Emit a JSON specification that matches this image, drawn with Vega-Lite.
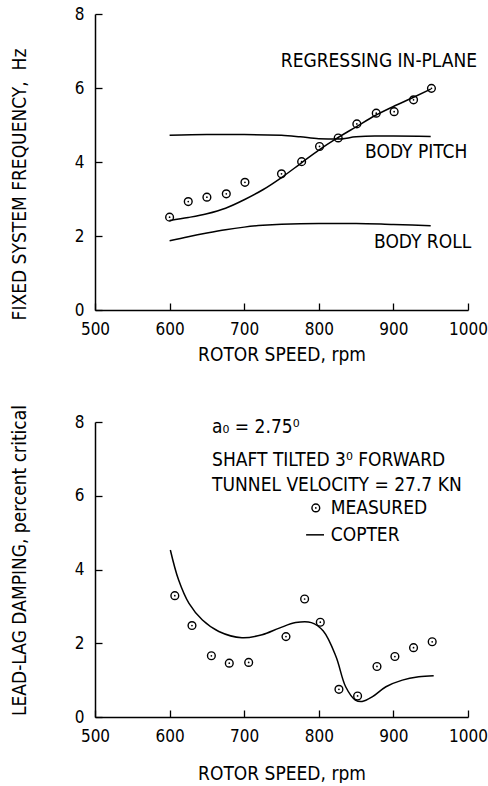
{
  "$schema": "https://vega.github.io/schema/vega-lite/v6.json",
  "padding": {"left": 10, "top": 5, "right": 5, "bottom": 0},
  "background": "white",
  "spacing": 40,
  "config": {
    "view": {"stroke": null},
    "font": "Liberation Sans Narrow, DejaVu Sans Condensed, DejaVu Sans",
    "axis": {
      "grid": false,
      "domainColor": "black",
      "domainWidth": 1.5,
      "tickColor": "black",
      "tickWidth": 1.3,
      "tickSize": -7,
      "format": "d",
      "labelFont": "Liberation Sans Narrow, DejaVu Sans Condensed, DejaVu Sans",
      "labelFontSize": 17,
      "labelColor": "black",
      "titleFont": "Liberation Sans Narrow, DejaVu Sans Condensed, DejaVu Sans",
      "titleFontSize": 19,
      "titleFontWeight": "normal",
      "titleColor": "black"
    },
    "axisX": {"labelPadding": 18, "titlePadding": 8, "labelFlush": false},
    "axisY": {"labelPadding": 18, "titlePadding": 45}
  },
  "datasets": {
    "topPoints": [
      {"rpm": 600, "freq": 2.51}, {"rpm": 625, "freq": 2.93}, {"rpm": 650, "freq": 3.05},
      {"rpm": 676, "freq": 3.14}, {"rpm": 701, "freq": 3.45}, {"rpm": 750, "freq": 3.68},
      {"rpm": 777, "freq": 4.01}, {"rpm": 801, "freq": 4.42}, {"rpm": 826, "freq": 4.65},
      {"rpm": 851, "freq": 5.03}, {"rpm": 877, "freq": 5.32}, {"rpm": 901, "freq": 5.36},
      {"rpm": 927, "freq": 5.68}, {"rpm": 951, "freq": 5.99}
    ],
    "topCurves": [
      {"mode": "regressing", "rpm": 600, "freq": 2.42}, {"mode": "regressing", "rpm": 625, "freq": 2.5},
      {"mode": "regressing", "rpm": 650, "freq": 2.6}, {"mode": "regressing", "rpm": 675, "freq": 2.75},
      {"mode": "regressing", "rpm": 700, "freq": 2.98}, {"mode": "regressing", "rpm": 725, "freq": 3.25},
      {"mode": "regressing", "rpm": 750, "freq": 3.58}, {"mode": "regressing", "rpm": 775, "freq": 3.95},
      {"mode": "regressing", "rpm": 800, "freq": 4.32}, {"mode": "regressing", "rpm": 825, "freq": 4.65},
      {"mode": "regressing", "rpm": 850, "freq": 4.95}, {"mode": "regressing", "rpm": 875, "freq": 5.25},
      {"mode": "regressing", "rpm": 900, "freq": 5.5}, {"mode": "regressing", "rpm": 925, "freq": 5.73},
      {"mode": "regressing", "rpm": 950, "freq": 5.97},
      {"mode": "pitch", "rpm": 600, "freq": 4.72}, {"mode": "pitch", "rpm": 650, "freq": 4.74},
      {"mode": "pitch", "rpm": 700, "freq": 4.74}, {"mode": "pitch", "rpm": 750, "freq": 4.72},
      {"mode": "pitch", "rpm": 775, "freq": 4.68}, {"mode": "pitch", "rpm": 800, "freq": 4.63},
      {"mode": "pitch", "rpm": 825, "freq": 4.62}, {"mode": "pitch", "rpm": 850, "freq": 4.68},
      {"mode": "pitch", "rpm": 875, "freq": 4.7}, {"mode": "pitch", "rpm": 900, "freq": 4.7},
      {"mode": "pitch", "rpm": 950, "freq": 4.69},
      {"mode": "roll", "rpm": 600, "freq": 1.87}, {"mode": "roll", "rpm": 625, "freq": 1.98},
      {"mode": "roll", "rpm": 650, "freq": 2.08}, {"mode": "roll", "rpm": 675, "freq": 2.17},
      {"mode": "roll", "rpm": 700, "freq": 2.24}, {"mode": "roll", "rpm": 725, "freq": 2.29},
      {"mode": "roll", "rpm": 750, "freq": 2.32}, {"mode": "roll", "rpm": 800, "freq": 2.34},
      {"mode": "roll", "rpm": 850, "freq": 2.34}, {"mode": "roll", "rpm": 900, "freq": 2.31},
      {"mode": "roll", "rpm": 950, "freq": 2.28}
    ],
    "bottomPoints": [
      {"rpm": 607, "damping": 3.29}, {"rpm": 630, "damping": 2.48}, {"rpm": 656, "damping": 1.66},
      {"rpm": 680, "damping": 1.46}, {"rpm": 706, "damping": 1.48}, {"rpm": 756, "damping": 2.18},
      {"rpm": 781, "damping": 3.2}, {"rpm": 802, "damping": 2.57}, {"rpm": 827, "damping": 0.75},
      {"rpm": 852, "damping": 0.57}, {"rpm": 878, "damping": 1.37}, {"rpm": 902, "damping": 1.64},
      {"rpm": 927, "damping": 1.88}, {"rpm": 952, "damping": 2.04}
    ],
    "bottomCurve": [
      {"rpm": 601, "damping": 4.53}, {"rpm": 612, "damping": 3.72}, {"rpm": 626, "damping": 3.08},
      {"rpm": 644, "damping": 2.63}, {"rpm": 666, "damping": 2.32}, {"rpm": 697, "damping": 2.15},
      {"rpm": 724, "damping": 2.23}, {"rpm": 747, "damping": 2.41}, {"rpm": 769, "damping": 2.56},
      {"rpm": 790, "damping": 2.56}, {"rpm": 806, "damping": 2.33}, {"rpm": 823, "damping": 1.64},
      {"rpm": 836, "damping": 0.82}, {"rpm": 849, "damping": 0.46}, {"rpm": 858, "damping": 0.42},
      {"rpm": 872, "damping": 0.55}, {"rpm": 890, "damping": 0.82}, {"rpm": 912, "damping": 1.0},
      {"rpm": 934, "damping": 1.09}, {"rpm": 954, "damping": 1.12}
    ],
    "one": [{}]
  },
  "vconcat": [
    {
      "width": 373,
      "height": 296,
      "layer": [
        {
          "data": {"name": "topCurves"},
          "mark": {"type": "line", "color": "black", "strokeWidth": 1.5, "interpolate": "monotone"},
          "encoding": {
            "x": {"field": "rpm", "type": "quantitative", "scale": {"domain": [500, 1000]},
                  "axis": {"values": [500, 600, 700, 800, 900, 1000], "title": "ROTOR SPEED, rpm"}},
            "y": {"field": "freq", "type": "quantitative", "scale": {"domain": [0, 8]},
                  "axis": {"values": [0, 2, 4, 6, 8], "title": "FIXED SYSTEM FREQUENCY,\u00a0\u00a0Hz", "titleY": 170}},
            "detail": {"field": "mode"}
          }
        },
        {
          "data": {"name": "topPoints"},
          "mark": {"type": "point", "shape": "circle", "filled": false, "color": "black", "size": 60, "strokeWidth": 1.4, "opacity": 1},
          "encoding": {
            "x": {"field": "rpm", "type": "quantitative"},
            "y": {"field": "freq", "type": "quantitative"}
          }
        },
        {
          "data": {"name": "topPoints"},
          "mark": {"type": "point", "shape": "circle", "filled": true, "color": "black", "size": 3, "opacity": 1},
          "encoding": {
            "x": {"field": "rpm", "type": "quantitative"},
            "y": {"field": "freq", "type": "quantitative"}
          }
        },
        {
          "data": {"name": "one"},
          "mark": {"type": "text", "text": "REGRESSING IN-PLANE", "align": "left", "baseline": "middle", "fontSize": 19, "color": "black"},
          "encoding": {"x": {"datum": 749}, "y": {"datum": 6.73}}
        },
        {
          "data": {"name": "one"},
          "mark": {"type": "text", "text": "BODY PITCH", "align": "left", "baseline": "middle", "fontSize": 19, "color": "black"},
          "encoding": {"x": {"datum": 862}, "y": {"datum": 4.28}}
        },
        {
          "data": {"name": "one"},
          "mark": {"type": "text", "text": "BODY ROLL", "align": "left", "baseline": "middle", "fontSize": 19, "color": "black"},
          "encoding": {"x": {"datum": 874}, "y": {"datum": 1.84}}
        }
      ]
    },
    {
      "width": 373,
      "height": 295,
      "layer": [
        {
          "data": {"name": "bottomCurve"},
          "mark": {"type": "line", "color": "black", "strokeWidth": 1.5, "interpolate": "catmull-rom"},
          "encoding": {
            "x": {"field": "rpm", "type": "quantitative", "scale": {"domain": [500, 1000]},
                  "axis": {"values": [500, 600, 700, 800, 900, 1000], "title": "ROTOR SPEED, rpm", "titlePadding": 20}},
            "y": {"field": "damping", "type": "quantitative", "scale": {"domain": [0, 8]},
                  "axis": {"values": [0, 2, 4, 6, 8], "title": "LEAD-LAG DAMPING, percent critical", "titleY": 138}}
          }
        },
        {
          "data": {"name": "bottomPoints"},
          "mark": {"type": "point", "shape": "circle", "filled": false, "color": "black", "size": 60, "strokeWidth": 1.4, "opacity": 1},
          "encoding": {
            "x": {"field": "rpm", "type": "quantitative"},
            "y": {"field": "damping", "type": "quantitative"}
          }
        },
        {
          "data": {"name": "bottomPoints"},
          "mark": {"type": "point", "shape": "circle", "filled": true, "color": "black", "size": 3, "opacity": 1},
          "encoding": {
            "x": {"field": "rpm", "type": "quantitative"},
            "y": {"field": "damping", "type": "quantitative"}
          }
        },
        {
          "data": {"name": "one"},
          "mark": {"type": "text", "text": "a₀ = 2.75⁰", "align": "left", "baseline": "middle", "fontSize": 19, "color": "black"},
          "encoding": {"x": {"datum": 657}, "y": {"datum": 7.87}}
        },
        {
          "data": {"name": "one"},
          "mark": {"type": "text", "text": "SHAFT TILTED 3⁰ FORWARD", "align": "left", "baseline": "middle", "fontSize": 19, "color": "black"},
          "encoding": {"x": {"datum": 657}, "y": {"datum": 6.97}}
        },
        {
          "data": {"name": "one"},
          "mark": {"type": "text", "text": "TUNNEL VELOCITY = 27.7 KN", "align": "left", "baseline": "middle", "fontSize": 19, "color": "black"},
          "encoding": {"x": {"datum": 657}, "y": {"datum": 6.3}}
        },
        {
          "data": {"name": "one"},
          "mark": {"type": "point", "shape": "circle", "filled": false, "color": "black", "size": 60, "strokeWidth": 1.4, "opacity": 1},
          "encoding": {"x": {"datum": 796}, "y": {"datum": 5.67}}
        },
        {
          "data": {"name": "one"},
          "mark": {"type": "point", "shape": "circle", "filled": true, "color": "black", "size": 3, "opacity": 1},
          "encoding": {"x": {"datum": 796}, "y": {"datum": 5.67}}
        },
        {
          "data": {"name": "one"},
          "mark": {"type": "text", "text": "MEASURED", "align": "left", "baseline": "middle", "fontSize": 19, "color": "black"},
          "encoding": {"x": {"datum": 816}, "y": {"datum": 5.67}}
        },
        {
          "data": {"name": "one"},
          "mark": {"type": "rule", "color": "black", "strokeWidth": 1.5},
          "encoding": {"x": {"datum": 783}, "x2": {"datum": 807}, "y": {"datum": 4.94}}
        },
        {
          "data": {"name": "one"},
          "mark": {"type": "text", "text": "COPTER", "align": "left", "baseline": "middle", "fontSize": 19, "color": "black"},
          "encoding": {"x": {"datum": 816}, "y": {"datum": 4.94}}
        }
      ]
    }
  ]
}
